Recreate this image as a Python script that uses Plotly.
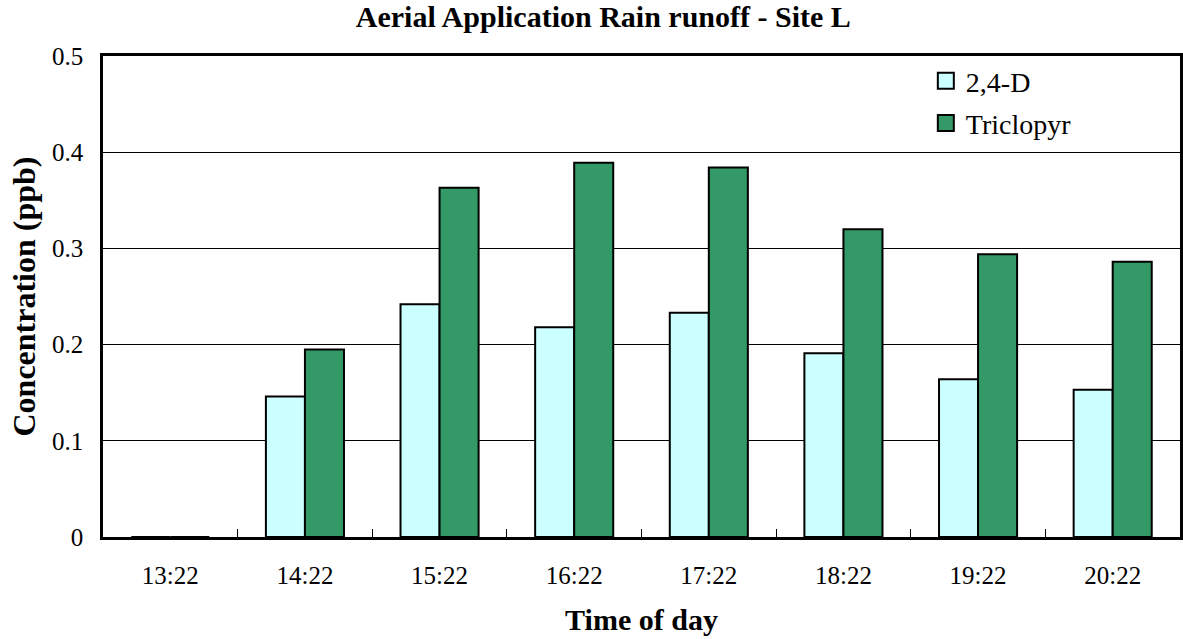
import plotly.graph_objects as go

categories = ["13:22", "14:22", "15:22", "16:22", "17:22", "18:22", "19:22", "20:22"]
d24 = [0, 0.146, 0.242, 0.218, 0.233, 0.191, 0.164, 0.153]
triclopyr = [0, 0.195, 0.363, 0.389, 0.384, 0.320, 0.294, 0.286]
series_names = ["2,4-D", "Triclopyr"]
series_colors = ["#CCFFFF", "#339966"]
y_ticks = [0, 0.1, 0.2, 0.3, 0.4, 0.5]
y_tick_labels = ["0", "0.1", "0.2", "0.3", "0.4", "0.5"]

font_family = "Liberation Serif, Times New Roman, serif"

fig = go.Figure()
for name, vals, col in zip(series_names, [d24, triclopyr], series_colors):
    fig.add_trace(go.Bar(
        x=categories, y=vals, name=name, showlegend=False,
        marker=dict(color=col, line=dict(color="black", width=2)),
    ))
# legend entries with larger square swatches
for i, (name, col) in enumerate(zip(series_names, series_colors)):
    fig.add_trace(go.Scatter(
        x=[None], y=[None], mode="markers", name=name, legendgroup=f"g{i}",
        marker=dict(symbol="square", size=17, color=col, line=dict(color="black", width=2)),
    ))

fig.update_layout(
    width=1183, height=639,
    margin=dict(l=103, r=0, t=56, b=102),
    paper_bgcolor="white", plot_bgcolor="white",
    font=dict(family=font_family, color="black", size=25),
    barmode="group", bargap=0.42, bargroupgap=0,
    title=dict(text="<b>Aerial Application Rain runoff - Site L</b>",
               x=0.51, xref="container", xanchor="center",
               y=1 - 16 / 639, yref="container", yanchor="middle",
               font=dict(size=30, family=font_family, color="black")),
    legend=dict(x=0.764, y=1.0, xanchor="left", yanchor="top",
                bgcolor="rgba(0,0,0,0)", borderwidth=0,
                font=dict(size=28, family=font_family, color="black"),
                traceorder="grouped", tracegroupgap=3,
                itemwidth=30),
    showlegend=True,
)

fig.update_xaxes(
    type="category", range=[-0.5, 7.5],
    showline=True, linecolor="black", linewidth=2.5, mirror=True,
    ticks="inside", tickson="boundaries", ticklen=8, tickcolor="black", tickwidth=1,
    ticklabelstandoff=14,
    tickfont=dict(size=25, family=font_family, color="black"),
    title=dict(text="<b>Time of day</b>", font=dict(size=30, family=font_family, color="black"),
               standoff=22),
    showgrid=False,
)
fig.update_yaxes(
    range=[0, 0.5], tickvals=y_ticks, ticktext=y_tick_labels,
    showline=True, linecolor="black", linewidth=2.5, mirror=True,
    showgrid=True, gridcolor="black", gridwidth=1,
    ticks="", zeroline=False, ticklabelstandoff=12,
    tickfont=dict(size=25, family=font_family, color="black"),
    title=dict(text="<b>Concentration (ppb)</b>", font=dict(size=32, family=font_family, color="black"),
               standoff=7),
)

fig.write_html("out.html")
